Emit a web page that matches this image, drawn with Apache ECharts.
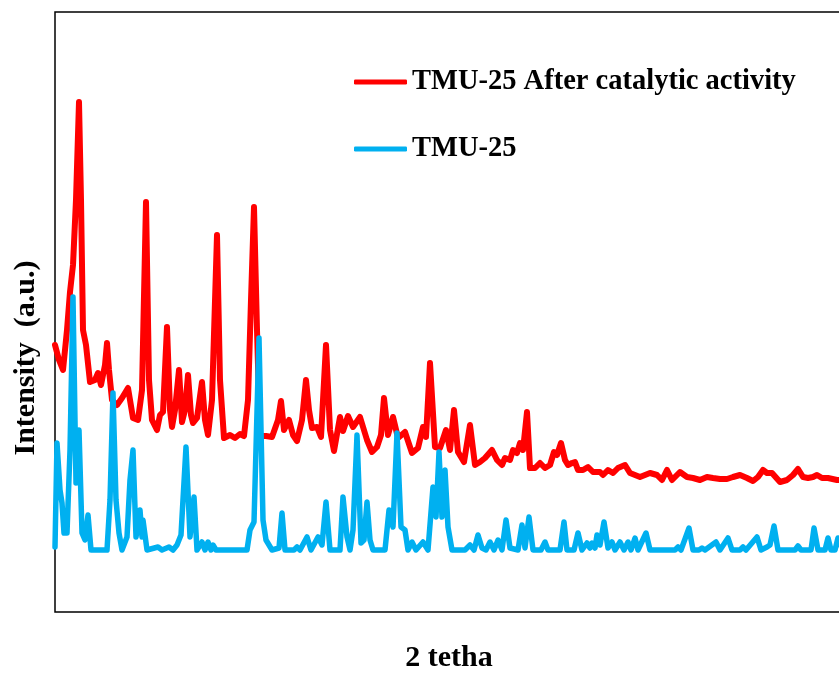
<!DOCTYPE html>
<html>
<head>
<meta charset="utf-8">
<script src="https://cdn.jsdelivr.net/npm/echarts@6/dist/echarts.min.js"></script>
<style>
html,body{margin:0;padding:0;background:#fff;}
#chart{width:839px;height:673px;}
</style>
</head>
<body>
<div id="chart"></div>
<script>
// Series names
const seriesNames = ['TMU-25 After catalytic activity', 'TMU-25'];
const axisTitles = { x: '2 tetha', y: 'Intensity  (a.u.)' };

// 2θ (deg) values for each series
const afterTheta = [5.00,5.20,5.40,5.60,5.75,5.90,6.05,6.20,6.30,6.40,6.55,6.75,7.00,7.15,7.30,7.50,7.60,7.70,7.85,8.10,8.35,8.65,8.90,9.15,9.35,9.55,9.70,9.85,10.10,10.25,10.40,10.60,10.75,10.85,11.00,11.20,11.35,11.50,11.65,11.80,11.90,12.10,12.35,12.50,12.65,12.85,13.10,13.25,13.45,13.75,14.00,14.25,14.45,14.65,14.80,14.95,15.10,15.25,15.55,15.85,16.15,16.30,16.45,16.70,16.90,17.10,17.35,17.55,17.70,17.85,18.10,18.30,18.55,18.75,18.95,19.25,19.40,19.65,19.90,20.25,20.60,20.85,21.10,21.30,21.45,21.65,21.90,22.15,22.50,22.85,23.15,23.40,23.55,23.75,24.00,24.25,24.55,24.75,24.95,25.15,25.45,25.75,26.00,26.25,26.50,26.85,27.10,27.35,27.50,27.75,27.90,28.10,28.25,28.40,28.60,28.75,29.00,29.25,29.50,29.75,29.95,30.10,30.30,30.50,30.65,30.85,31.00,31.15,31.40,31.65,31.90,32.25,32.40,32.65,32.90,33.15,33.50,33.75,34.25,34.75,35.10,35.35,35.60,35.85,36.25,36.60,36.90,37.25,37.60,37.90,38.25,38.60,38.90,39.25,39.60,39.90,40.15,40.40,40.60,40.85,41.25,41.60,41.90,42.15,42.40,42.65,42.90,43.10,43.35,43.65,44.10,44.50];
const afterIntensity = [267,252,242,282,320,347,412,510,412,282,267,230,232,239,227,247,269,242,212,207,214,224,194,192,222,410,232,192,182,197,200,285,202,185,202,242,190,202,237,197,189,194,230,192,177,212,377,232,174,177,174,178,176,212,312,405,282,176,176,175,192,211,182,192,177,171,192,232,202,184,185,175,267,182,161,195,181,196,185,195,172,160,165,177,214,177,195,174,180,159,164,185,175,249,165,164,182,162,202,160,150,187,147,150,154,162,152,147,154,152,162,159,169,162,200,144,144,149,144,147,160,157,169,152,147,149,150,142,142,145,140,140,137,142,139,144,147,139,135,139,137,132,142,132,140,135,134,132,135,134,133,133,135,137,134,131,135,142,139,139,130,132,137,143,135,134,135,137,134,134,132,132];

const pristineTheta = [5.00,5.10,5.25,5.35,5.45,5.60,5.75,5.90,6.05,6.20,6.35,6.50,6.65,6.80,7.60,7.75,7.90,8.05,8.20,8.35,8.60,8.75,8.90,9.05,9.25,9.35,9.40,9.60,10.15,10.35,10.70,10.90,11.10,11.30,11.55,11.75,11.95,12.10,12.35,12.50,12.65,12.80,12.90,13.05,14.60,14.75,14.95,15.20,15.40,15.55,15.85,16.20,16.35,16.50,16.95,17.10,17.25,17.60,17.80,18.15,18.35,18.55,18.75,19.25,19.40,19.60,19.75,19.90,20.10,20.30,20.45,20.60,20.75,20.90,21.50,21.70,21.90,22.10,22.30,22.50,22.65,22.85,23.05,23.40,23.65,23.90,24.05,24.20,24.35,24.50,24.65,24.85,25.50,25.75,25.95,26.15,26.35,26.55,26.75,26.95,27.15,27.35,27.55,27.75,28.15,28.35,28.50,28.70,28.90,29.30,29.50,29.65,30.25,30.45,30.60,30.95,31.15,31.35,31.60,31.75,31.85,32.00,32.10,32.25,32.45,32.65,32.85,33.00,33.25,33.45,33.65,33.80,34.00,34.15,34.55,34.75,36.00,36.15,36.30,36.70,36.90,37.20,37.35,37.50,38.05,38.25,38.65,38.85,39.25,39.40,39.55,40.10,40.30,40.60,40.75,40.95,41.15,42.00,42.15,42.30,42.80,42.95,43.15,43.50,43.65,43.80,44.00,44.15,44.35];
const pristineIntensity = [65,169,122,109,79,79,162,315,129,182,79,72,97,62,62,112,219,112,79,62,75,132,162,75,102,75,92,62,65,62,65,62,67,77,165,75,115,62,70,62,70,62,67,62,62,82,90,274,92,72,62,64,99,62,62,65,62,75,62,75,67,110,62,62,115,75,62,82,177,69,72,110,72,62,62,102,85,179,85,82,62,70,62,70,62,125,95,160,95,142,85,62,62,67,62,77,64,62,70,62,72,62,92,64,62,87,64,95,62,62,70,62,62,90,62,62,79,62,69,64,69,64,77,67,90,64,70,62,70,62,70,62,74,62,79,62,62,65,62,84,62,62,64,62,70,62,74,62,62,65,62,75,62,65,67,86,62,62,66,62,62,84,62,62,74,62,62,74,64];

const zip = (a, b) => a.map((v, i) => [v, b[i]]);

const chart = echarts.init(document.getElementById('chart'), null, { renderer: 'canvas' });
const serif = '"Liberation Serif", "Times New Roman", serif';
const legendText = { fontFamily: serif, fontWeight: 'bold', fontSize: 28.5, color: '#000', lineHeight: 34 };

chart.setOption({
  animation: false,
  backgroundColor: '#ffffff',
  grid: { left: 55, top: 12, width: 800, height: 600, outerBoundsMode: 'none', containLabel: false,
          show: true, borderColor: '#000', borderWidth: 1.5, backgroundColor: 'transparent' },
  xAxis: { type: 'value', min: 5, max: 45, axisLine: { show: false }, axisTick: { show: false }, axisLabel: { show: false }, splitLine: { show: false } },
  yAxis: { type: 'value', min: 0, max: 600, axisLine: { show: false }, axisTick: { show: false }, axisLabel: { show: false }, splitLine: { show: false } },
  legend: [
    { data: [seriesNames[0]], left: 354, top: 65, itemWidth: 53, itemHeight: 5, itemGap: 0, icon: 'roundRect', padding: 0, textStyle: legendText },
    { data: [seriesNames[1]], left: 354, top: 132, itemWidth: 53, itemHeight: 5, itemGap: 0, icon: 'roundRect', padding: 0, textStyle: legendText }
  ],
  graphic: [
    { type: 'text', x: 449, y: 658, style: { text: axisTitles.x, font: 'bold 30px ' + serif, fill: '#000', textAlign: 'center', textVerticalAlign: 'middle' } },
    { type: 'text', rotation: Math.PI / 2, x: 11, y: 358, style: { text: axisTitles.y, font: 'bold 30px ' + serif, fill: '#000', textAlign: 'center', textVerticalAlign: 'top' } }
  ],
  series: [
    { name: seriesNames[0], type: 'line', data: zip(afterTheta, afterIntensity), showSymbol: false, smooth: false,
      lineStyle: { color: '#FF0000', width: 6, cap: 'round', join: 'round' }, itemStyle: { color: '#FF0000' }, z: 2 },
    { name: seriesNames[1], type: 'line', data: zip(pristineTheta, pristineIntensity), showSymbol: false, smooth: false,
      lineStyle: { color: '#00B0F0', width: 5.5, cap: 'round', join: 'round' }, itemStyle: { color: '#00B0F0' }, z: 3 }
  ]
});
</script>
</body>
</html>
